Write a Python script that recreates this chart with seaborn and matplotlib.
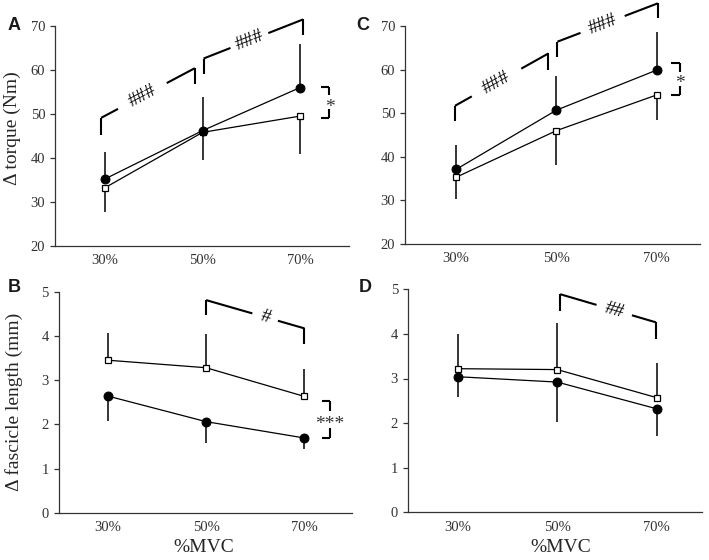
import numpy as np
import pandas as pd
import matplotlib
matplotlib.use("Agg")
import matplotlib.pyplot as plt
import seaborn as sns

# %MVC levels
levels = ["30%", "50%", "70%"]

# panel A / C : delta torque (Nm), filled = one condition, open = other
torque_a_filled = [35.2, 46.2, 56.0]
torque_a_filled_sd = [6.1, 7.7, 9.9]
torque_a_open = [33.2, 45.8, 49.5]
torque_a_open_sd = [5.6, 6.3, 8.6]

torque_c_filled = [37.1, 50.7, 59.9]
torque_c_filled_sd = [5.6, 7.9, 8.8]
torque_c_open = [35.3, 46.0, 54.2]
torque_c_open_sd = [4.9, 7.8, 5.7]

# panel B / D : delta fascicle length (mm)
fl_b_filled = [2.64, 2.06, 1.69]
fl_b_filled_sd = [0.57, 0.49, 0.24]
fl_b_open = [3.45, 3.28, 2.63]
fl_b_open_sd = [0.62, 0.76, 0.62]

fl_d_filled = [3.04, 2.92, 2.32]
fl_d_filled_sd = [0.45, 0.89, 0.62]
fl_d_open = [3.22, 3.20, 2.57]
fl_d_open_sd = [0.78, 1.05, 0.77]

sns.set_style("ticks")
plt.rcParams["font.family"] = ["Liberation Serif", "DejaVu Serif"]
plt.rcParams["axes.edgecolor"] = "#333333"
plt.rcParams["xtick.color"] = "#333333"
plt.rcParams["ytick.color"] = "#333333"
plt.rcParams["text.color"] = "#1a1a1a"

fig = plt.figure(figsize=(7.09, 5.6), dpi=100)
W, H = 709, 560


def add_axes(left, right, top, bottom):
    return fig.add_axes([left / W, 1 - bottom / H, (right - left) / W, (bottom - top) / H])


ax_a = add_axes(55, 349, 26, 245.7)
ax_c = add_axes(405, 700, 26, 244)
ax_b = add_axes(58.5, 351.7, 291.7, 512.7)
ax_d = add_axes(407.7, 701.7, 289.3, 512.3)

x = np.arange(len(levels))


def draw_panel(ax, filled, filled_sd, open_, open_sd, filled_up):
    # error bars (one-sided)
    sgn = 1 if filled_up else -1
    ax.vlines(x, filled, np.array(filled) + sgn * np.array(filled_sd), color="black", lw=1.1, zorder=2)
    ax.vlines(x, open_, np.array(open_) - sgn * np.array(open_sd), color="black", lw=1.1, zorder=2)
    df_o = pd.DataFrame({"x": x, "y": open_})
    df_f = pd.DataFrame({"x": x, "y": filled})
    sns.lineplot(data=df_o, x="x", y="y", ax=ax, color="black", lw=0.9, marker="s", markersize=5,
                 markerfacecolor="white", markeredgecolor="black", markeredgewidth=0.9, zorder=3)
    sns.lineplot(data=df_f, x="x", y="y", ax=ax, color="black", lw=0.9, marker="o", markersize=6.4,
                 markerfacecolor="black", markeredgecolor="black", zorder=4)
    ax.set_xticks(x)
    ax.set_xticklabels(levels, fontsize=10.5)
    ax.tick_params(axis="x", length=0, pad=6)
    ax.tick_params(axis="y", length=3.5, width=0.9, labelsize=10.5, pad=3.5)
    sns.despine(ax=ax)
    for s in ("left", "bottom"):
        ax.spines[s].set_linewidth(0.9)
    ax.set_xlabel("")
    ax.set_ylabel("")


def bracket(ax, x0, y0b, y0t, x1, y1t, y1b, label, gap, fs=14):
    kw = dict(color="black", lw=1.5, clip_on=False, solid_capstyle="butt")
    ax.plot([x0, x0], [y0b, y0t], **kw)
    ax.plot([x1, x1], [y1t, y1b], **kw)
    ga, gb = gap
    ax.plot([x0, x0 + ga * (x1 - x0)], [y0t, y0t + ga * (y1t - y0t)], **kw)
    ax.plot([x0 + gb * (x1 - x0), x1], [y0t + gb * (y1t - y0t), y1t], **kw)
    p0 = ax.transData.transform((x0, y0t))
    p1 = ax.transData.transform((x1, y1t))
    ang = np.degrees(np.arctan2(p1[1] - p0[1], p1[0] - p0[0]))
    tm = (ga + gb) / 2
    ax.text(x0 + tm * (x1 - x0), y0t + tm * (y1t - y0t), label, fontsize=fs, rotation=ang,
            rotation_mode="anchor", ha="center", va="center", clip_on=False, color="black")


def star_bracket(ax, xi, xo, yt, yb, label, fs=14):
    kw = dict(color="black", lw=1.5, clip_on=False, solid_capstyle="butt")
    ax.plot([xi, xo], [yt, yt], **kw)
    ax.plot([xi, xo], [yb, yb], **kw)
    ax.plot([xo, xo], [yt, yt + 0.28 * (yb - yt)], **kw)
    ax.plot([xo, xo], [yt + 0.72 * (yb - yt), yb], **kw)
    ax.annotate(label, (xo, (yt + yb) / 2), xytext=(0, -3.5), textcoords="offset points",
                fontsize=fs, ha="center", va="center", annotation_clip=False, color="#333333")


# panel A
draw_panel(ax_a, torque_a_filled, torque_a_filled_sd, torque_a_open, torque_a_open_sd, True)
ax_a.set_xlim(-0.513, 2.50)
ax_a.set_ylim(20, 70)
ax_a.set_yticks([20, 30, 40, 50, 60, 70])
bracket(ax_a, -0.04, 45.2, 49.1, 0.92, 60.4, 56.7, "###", (0.18, 0.70))
bracket(ax_a, 1.01, 59.1, 62.6, 2.03, 71.5, 68.0, "###", (0.27, 0.65))
star_bracket(ax_a, 2.21, 2.30, 56.2, 49.0, "*")
ax_a.set_ylabel("\u0394 torque (Nm)", fontsize=14)
ax_a.yaxis.set_label_coords(-0.116, 0.535)

# panel C
draw_panel(ax_c, torque_c_filled, torque_c_filled_sd, torque_c_open, torque_c_open_sd, True)
ax_c.set_xlim(-0.508, 2.43)
ax_c.set_ylim(20, 70)
ax_c.set_yticks([20, 30, 40, 50, 60, 70])
bracket(ax_c, -0.01, 48.3, 51.7, 0.92, 63.7, 59.8, "###", (0.18, 0.71))
bracket(ax_c, 1.01, 63.0, 66.4, 2.01, 75.2, 71.8, "###", (0.23, 0.67))
star_bracket(ax_c, 2.14, 2.23, 61.6, 54.2, "*")

# panel B
draw_panel(ax_b, fl_b_filled, fl_b_filled_sd, fl_b_open, fl_b_open_sd, False)
ax_b.set_xlim(-0.50, 2.48)
ax_b.set_ylim(0, 5)
ax_b.set_yticks([0, 1, 2, 3, 4, 5])
bracket(ax_b, 1.0, 4.47, 4.81, 2.0, 4.17, 3.82, "#", (0.47, 0.73))
star_bracket(ax_b, 2.18, 2.26, 2.53, 1.68, "***")
ax_b.set_ylabel("\u0394 fascicle length (mm)", fontsize=14)
ax_b.yaxis.set_label_coords(-0.12, 0.5)
ax_b.set_xlabel("%MVC", fontsize=14)
ax_b.xaxis.set_label_coords(0.497, -0.118)

# panel D
draw_panel(ax_d, fl_d_filled, fl_d_filled_sd, fl_d_open, fl_d_open_sd, False)
ax_d.set_xlim(-0.50, 2.45)
ax_d.set_ylim(0, 5)
ax_d.set_yticks([0, 1, 2, 3, 4, 5])
bracket(ax_d, 1.03, 4.52, 4.89, 1.99, 4.26, 3.88, "##", (0.38, 0.75))
ax_d.set_xlabel("%MVC", fontsize=14)
ax_d.xaxis.set_label_coords(0.52, -0.118)

# panel letters
for letter, px, py in [("A", 14, 26), ("C", 363, 26), ("B", 14, 288), ("D", 365, 288)]:
    fig.text(px / W, 1 - py / H, letter, fontsize=13, fontweight="bold",
             family=["Liberation Sans", "DejaVu Sans"], ha="center", va="center")

fig.savefig("out.png", dpi=100)
